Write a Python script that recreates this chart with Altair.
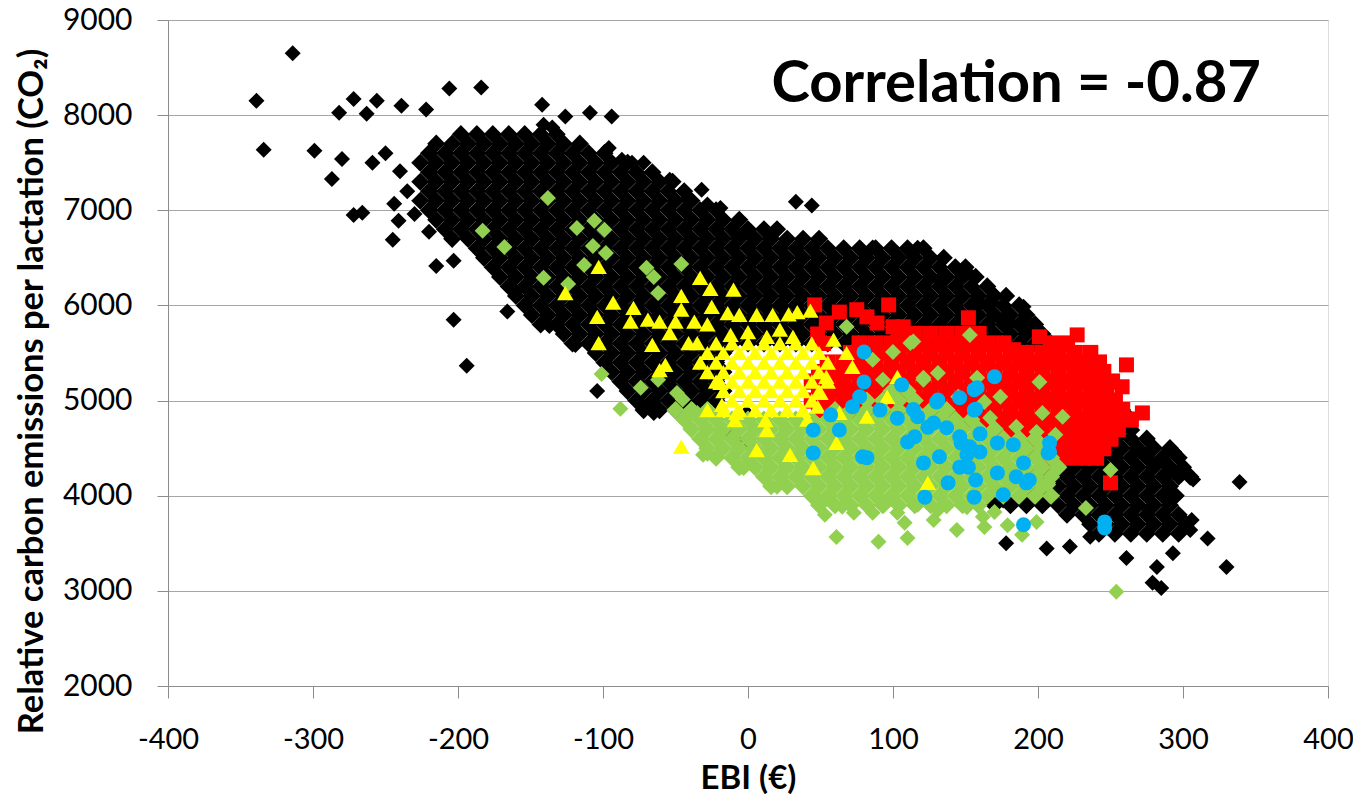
import altair as alt
import pandas as pd

# Scatter of EBI (euro) against relative CO2 emissions per lactation.
# Five groups of animals, each one a list of (EBI, CO2) points.
# Dense parts of the cloud are written row by row: (CO2 level, [EBI values]).

black_rows = [
    (7800, [-198, -187, -176, -165, -154, -143, -132]),
    (7700, [-215, -204, -193, -182, -171, -160, -149, -138, -127, -116]),
    (7600, [-220, -209, -198, -187, -176, -165, -154, -143, -132, -121, -110, -99]),
    (7500, [-226, -215, -204, -193, -182, -171, -160, -149, -138, -127, -116, -105, -94, -83]),
    (7400, [-220, -209, -198, -187, -176, -165, -154, -143, -132, -121, -110, -99, -88, -77, -66]),
    (7300, [-226, -215, -204, -193, -182, -171, -160, -149, -138, -127, -116, -105, -94, -83, -72, -61, -52]),
    (7200, [-220, -209, -198, -187, -176, -165, -154, -143, -132, -121, -110, -99, -88, -77, -66, -55, -44]),
    (7100, [-226, -215, -204, -193, -182, -171, -160, -149, -138, -127, -116, -105, -94, -83, -72, -61, -50, -39]),
    (7000, [-220, -209, -198, -187, -176, -165, -154, -143, -132, -121, -110, -99, -88, -77, -66, -55, -44, -33, -22]),
    (6900, [-215, -204, -193, -182, -171, -160, -149, -138, -127, -116, -105, -94, -83, -72, -61, -50, -39, -28, -17, -6]),
    (6800, [-209, -198, -187, -176, -165, -154, -143, -132, -121, -110, -99, -88, -77, -66, -55, -44, -33, -22, -11, 0, 11, 20]),
    (6700, [-204, -193, -182, -171, -160, -149, -138, -127, -116, -105, -94, -83, -72, -61, -50, -39, -28, -17, -6, 5, 16, 27, 38, 49]),
    (6600, [-187, -176, -165, -154, -143, -132, -121, -110, -99, -88, -77, -66, -55, -44, -33, -22, -11, 0, 11, 22, 33, 44, 55, 66, 77, 88, 99, 110, 121]),
    (6500, [-182, -171, -160, -149, -138, -127, -116, -105, -94, -83, -72, -61, -50, -39, -28, -17, -6, 5, 16, 27, 38, 49, 60, 71, 82, 93, 104, 115, 126, 135]),
    (6400, [-176, -165, -154, -143, -132, -121, -110, -99, -88, -77, -66, -55, -44, -33, -22, -11, 0, 11, 22, 33, 44, 55, 66, 77, 88, 99, 110, 121, 132, 143, 150]),
    (6300, [-171, -160, -149, -138, -127, -116, -105, -94, -83, -72, -61, -50, -39, -28, -17, -6, 5, 16, 27, 38, 49, 60, 71, 82, 93, 104, 115, 126, 137, 148, 157]),
    (6200, [-165, -154, -143, -132, -121, -110, -99, -88, -77, -66, -55, -44, -33, -22, -11, 0, 11, 22, 33, 44, 55, 66, 77, 88, 99, 110, 121, 132, 143, 154, 165]),
    (6100, [-160, -149, -138, -127, -116, -105, -94, -83, -72, -61, -50, -39, -28, -17, -6, 5, 16, 27, 38, 49, 60, 71, 82, 93, 104, 115, 126, 137, 148, 159, 170, 178]),
    (6000, [-154, -143, -132, -121, -110, -99, -88, -77, -66, -55, -44, -33, -22, -11, 0, 11, 22, 33, 44, 55, 66, 77, 88, 99, 110, 121, 132, 143, 154, 165, 176, 187]),
    (5900, [-149, -138, -127, -116, -105, -94, -83, -72, -61, -50, -39, -28, -17, -6, 5, 16, 27, 38, 49, 60, 71, 82, 93, 104, 115, 126, 137, 148, 159, 170, 181, 192]),
    (5800, [-143, -132, -121, -110, -99, -88, -77, -66, -55, -44, -33, -22, -11, 0, 11, 22, 33, 44, 55, 66, 77, 88, 99, 110, 121, 132, 143, 154, 165, 176, 187, 198]),
    (5700, [-127, -116, -105, -94, -83, -72, -61, -50, -39, -28, -17, -6, 5, 16, 27, 38, 49, 60, 71, 82, 93, 104, 115, 126, 137, 148, 159, 170, 181, 192, 203]),
    (5600, [-121, -110, -99, -88, -77, -66, -55, -44, -33, -22, -11, 0, 11, 22, 33, 44, 55, 66, 77, 88, 99, 110, 121, 132, 143, 154, 165, 176, 187, 198, 209]),
    (5500, [-105, -94, -83, -72, -61, -50, -39, -28, -17]),
    (5400, [-99, -88, -77, -66, -55, -44, -33, -22]),
    (5300, [-94, -83, -72, -61, -50, -39, -28, -17]),
    (5200, [-88, -77, -66, -55, -44, -33, -22]),
    (5100, [-83, -72, -61, -50, -39, -28, -17]),
    (5000, [-77, -66, -55, -44, -33, -22]),
    (4900, [-72, -61, -50, 247, 258]),
    (4800, [242, 253, 264]),
    (4700, [225, 236, 247, 258]),
    (4600, [220, 231, 242, 253, 264, 275]),
    (4500, [214, 225, 236, 247, 258, 269, 280, 291]),
    (4400, [209, 220, 231, 242, 253, 264, 275, 286, 297]),
    (4300, [203, 214, 225, 236, 247, 258, 269, 280, 291, 300]),
    (4200, [198, 209, 220, 231, 242, 253, 264, 275, 286, 297, 305]),
    (4100, [203, 214, 225, 236, 247, 258, 269, 280, 291]),
    (4000, [198, 209, 220, 231, 242, 253, 264, 275, 286, 295]),
    (3900, [170, 181, 192, 203, 214, 225, 236, 247, 258, 269, 280, 291]),
    (3800, [220, 231, 242, 253, 264, 275, 286, 297]),
    (3700, [236, 247, 258, 269, 280, 291, 302]),
    (3600, [242, 253, 264, 275, 286, 297]),
]

black_single = [
    (-314, 8650), (-339, 8150), (-334, 7635), (-299, 7625), (-282, 8025), (-272, 8170),
    (-263, 8015), (-256, 8150), (-239, 8100), (-222, 8060), (-206, 8280), (-184, 8290),
    (-142, 8110), (-126, 7985), (-109, 8025), (-94, 7985), (-135, 7870), (-141, 7900),
    (-280, 7540), (-287, 7330), (-272, 6950), (-266, 6975), (-245, 6690), (-241, 6890),
    (-244, 7070), (-220, 6775), (-215, 6415), (-203, 6470), (-203, 5850), (-160, 6150),
    (-166, 5935), (-137, 5785), (-119, 5585), (-194, 5365), (-104, 5100), (-72, 4925),
    (-65, 4870), (-259, 7500), (-250, 7600), (-240, 7410), (-235, 7200), (-230, 6960),
    (-96, 7655), (-87, 7530), (-80, 7500), (-72, 7500), (-76, 7375), (-54, 7320),
    (-42, 7120), (-32, 7215), (-28, 7060), (-19, 7025), (33, 7090), (44, 7050),
    (-3, 6740), (86, 6610), (110, 6585), (117, 6605), (151, 6355), (132, 6270),
    (151, 6340), (160, 6025), (168, 6025), (190, 5985), (175, 5850), (181, 5815),
    (192, 5830), (194, 5745), (207, 5535), (222, 5430), (230, 5345), (241, 5375),
    (265, 4690), (275, 4590), (270, 4480), (294, 4460), (282, 4345), (293, 4250),
    (307, 4170), (339, 4145), (290, 4040), (277, 3850), (298, 3775), (306, 3745),
    (305, 3640), (317, 3550), (293, 3395), (261, 3345), (330, 3250), (282, 3250),
    (279, 3085), (285, 3030), (222, 3465), (206, 3445), (178, 3500), (236, 3570),
    (-8, 4580), (2, 4530), (-1, 4870), (-12, 4650), (165, 4000), (176, 3950),
]

red_rows = [
    (5700, [104, 115, 126, 137, 148, 159]),
    (5600, [77, 88, 99, 110, 121, 132, 143, 154, 165, 176, 209, 220]),
    (5500, [71, 82, 93, 104, 115, 126, 137, 148, 159, 170, 181, 192, 203, 214, 225, 236]),
    (5400, [55, 66, 77, 88, 99, 110, 121, 132, 143, 154, 165, 176, 187, 198, 209, 220, 231, 242]),
    (5300, [49, 60, 71, 82, 93, 104, 115, 126, 137, 148, 159, 170, 181, 192, 203, 214, 225, 236, 245]),
    (5200, [44, 55, 66, 77, 88, 99, 110, 121, 132, 143, 154, 165, 176, 187, 198, 209, 220, 231, 242, 251]),
    (5100, [49, 60, 71, 82, 93, 104, 115, 126, 137, 148, 159, 170, 181, 192, 203, 214, 225, 236, 247]),
    (5000, [44, 55, 66, 77, 88, 99, 110, 121, 132, 143, 154, 165, 176, 187, 198, 209, 220, 231, 242, 253]),
    (4900, [49, 60, 71, 82, 93, 104, 115, 126, 137, 148, 159, 170, 181, 192, 203, 214, 225, 236, 247, 258]),
    (4800, [154, 165, 176, 187, 198, 209, 220, 231, 242, 253, 264]),
    (4700, [159, 170, 181, 192, 203, 214, 225, 236, 247, 255]),
    (4600, [176, 187, 198, 209, 220, 231, 242, 250]),
    (4500, [192, 203, 214, 225, 236, 245]),
    (4400, [209, 220, 231, 240]),
]

red_single = [
    (46, 6005), (63, 5930), (75, 5955), (97, 6005), (54, 5815), (82, 5880), (89, 5815),
    (100, 5775), (152, 5870), (107, 5775), (201, 5670), (227, 5690), (212, 5535),
    (183, 5535), (261, 5375), (243, 5145), (258, 5145), (272, 4870), (250, 4965),
    (255, 4830), (235, 4410), (250, 4135), (48, 5700), (52, 5600),
]

green_rows = [
    (5100, [99, 110]),
    (5000, [82, 93, 104, 115]),
    (4900, [-50, -39, -28, 60, 71, 82, 93, 104, 115, 126, 137]),
    (4800, [-44, -33, -22, -11, 0, 11, 22, 33, 44, 55, 66, 77, 88, 99, 110, 121, 132, 143, 154]),
    (4700, [-39, -28, -17, -6, 5, 16, 27, 38, 49, 60, 71, 82, 93, 104, 115, 126, 137, 148, 159, 170]),
    (4600, [-33, -22, -11, 0, 11, 22, 33, 44, 55, 66, 77, 88, 99, 110, 121, 132, 143, 154, 165, 176, 187, 198]),
    (4500, [-28, -17, -6, 5, 16, 27, 38, 49, 60, 71, 82, 93, 104, 115, 126, 137, 148, 159, 170, 181, 192, 203]),
    (4400, [-22, -11, 0, 11, 22, 33, 44, 55, 66, 77, 88, 99, 110, 121, 132, 143, 154, 165, 176, 187, 198, 209]),
    (4300, [-6, 5, 16, 27, 38, 49, 60, 71, 82, 93, 104, 115, 126, 137, 148, 159, 170, 181, 192, 203, 214]),
    (4200, [11, 22, 33, 44, 55, 66, 77, 88, 99, 110, 121, 132, 143, 154, 165, 176, 187, 198, 209]),
    (4100, [16, 27, 38, 49, 60, 71, 82, 93, 104, 115, 126, 137, 148, 159, 170, 181, 192, 203]),
    (4000, [44, 55, 66, 77, 88, 99, 110, 121, 132, 143, 154, 165, 176, 187, 198, 209]),
    (3900, [49, 60, 71, 82, 93, 104, 115, 126, 137, 148, 159]),
]

green_single = [
    (-138, 7130), (-183, 6785), (-168, 6615), (-118, 6815), (-106, 6890), (-99, 6795),
    (-107, 6625), (-98, 6550), (-113, 6425), (-141, 6290), (-124, 6225), (-70, 6395),
    (-65, 6300), (-62, 6130), (-46, 6435),
    (-101, 5280), (-74, 5135), (-88, 4915), (-62, 5220), (-49, 5080), (-35, 4870),
    (-45, 5010), (-28, 4440), (-19, 4660), (-31, 4430), (-3, 4290), (20, 4095),
    (68, 5775), (100, 5510), (112, 5605), (153, 5690), (114, 5620), (93, 5220),
    (121, 5220), (131, 5290), (86, 5430), (121, 5240), (158, 5240), (201, 5195),
    (217, 4830), (203, 4870), (167, 4820), (185, 4725), (199, 4670), (212, 4640),
    (174, 5040), (163, 4985), (145, 5040), (250, 4270), (207, 4135), (233, 3870),
    (207, 4115), (254, 2990),
    (61, 3565), (90, 3515), (110, 3555), (144, 3640), (163, 3670), (199, 3725),
    (189, 3590), (179, 3690), (108, 3715), (53, 3800), (73, 3820), (86, 3820),
    (103, 3820), (65, 3885), (94, 3905), (117, 3905), (131, 3850), (52, 3935),
    (151, 3880), (162, 3780), (128, 3745), (170, 3830),
]

yellow_rows = [
    (5600, [-22, -11, 0, 11, 22, 33, 44]),
    (5500, [-28, -17, -6, 5, 16, 27, 38, 49]),
    (5400, [-33, -22, -11, 0, 11, 22, 33, 44, 55]),
    (5300, [-28, -17, -6, 5, 16, 27, 38, 49]),
    (5200, [-22, -11, 0, 11, 22, 33, 44, 55]),
    (5100, [-17, -6, 5, 16, 27, 38, 49]),
    (5000, [-11, 0, 11, 22, 33, 44]),
    (4900, [-17, -6, 5, 16, 27, 38]),
]

yellow_single = [
    (-103, 6405), (-126, 6130), (-33, 6290), (-26, 6175), (-10, 6165), (-46, 6100),
    (-93, 6030), (-79, 5975), (-104, 5880), (-81, 5830), (-69, 5850), (-61, 5830),
    (-46, 5955), (-25, 5985), (-14, 5920), (-6, 5900), (6, 5900), (17, 5900),
    (28, 5905), (34, 5930), (43, 5945), (-50, 5830), (-37, 5830), (-28, 5800),
    (-54, 5710), (-41, 5605), (-103, 5605), (-66, 5585), (-35, 5605), (-57, 5375),
    (-61, 5320), (13, 5670), (22, 5745), (31, 5670), (0, 5720), (-12, 5690),
    (-19, 5185), (-18, 4955), (-28, 4900), (-8, 4870), (-9, 4795), (12, 4795),
    (13, 4690), (6, 4480), (29, 4430), (45, 4290), (41, 4800), (61, 4555),
    (63, 4870), (82, 4830), (96, 5040), (124, 4135), (50, 5080), (54, 5250),
    (59, 5640), (68, 5500), (72, 5355), (103, 5250), (-46, 4515), (48, 4935),
]

blue_points = [
    (80, 5510), (80, 5195), (106, 5165), (72, 4935), (77, 5040), (91, 4900), (57, 4850),
    (45, 4690), (63, 4690), (45, 4450), (79, 4410), (82, 4400), (103, 4815), (117, 4830),
    (130, 4985), (146, 5030), (156, 5115), (124, 4720), (137, 4715), (110, 4565),
    (115, 4620), (146, 4620), (121, 4345), (132, 4410), (146, 4300), (138, 4135),
    (122, 3985), (156, 3985), (156, 4900), (153, 4515), (170, 5250), (158, 5135),
    (131, 5005), (157, 4910), (128, 4765), (160, 4650), (147, 4555), (172, 4555),
    (183, 4535), (208, 4555), (207, 4450), (151, 4430), (160, 4460), (152, 4300),
    (172, 4240), (185, 4200), (190, 4345), (192, 4135), (194, 4165), (176, 4010),
    (157, 4165), (190, 3695), (246, 3725), (246, 3660), (208, 4460), (114, 4905),
]

note_text = ["Correlation = -0.87"]
note_ebi = [185]
note_co2 = [8141]

x_ticks = [-400, -300, -200, -100, 0, 100, 200, 300, 400]
y_ticks = [2000, 3000, 4000, 5000, 6000, 7000, 8000, 9000]


def to_frame(pts):
    return pd.DataFrame(pts, columns=["ebi", "co2"])


def flatten(rows):
    return [(x, y) for y, xs in rows for x in xs]


black_core = to_frame(flatten(black_rows))
black_out = to_frame(black_single)
red_core = to_frame(flatten(red_rows))
red_out = to_frame(red_single)
green_core = to_frame(flatten(green_rows))
green_out = to_frame(green_single)
yellow_df = to_frame(flatten(yellow_rows) + yellow_single)
blue_df = to_frame(blue_points)
note_df = pd.DataFrame({"ebi": note_ebi, "co2": note_co2, "label": note_text})

GRAY = "#8c8c8c"

x_enc = alt.X(
    "ebi:Q",
    scale=alt.Scale(domain=[-400, 400], nice=False, zero=False),
    axis=alt.Axis(
        values=x_ticks,
        grid=False,
        domainColor=GRAY,
        tickColor=GRAY,
        tickSize=12,
        labelExpr="toString(datum.value)",
        labelFlush=False,
        labelFont="Lato",
        labelFontSize=29,
        labelColor="black",
        labelBaseline="alphabetic",
        labelPadding=50,
        title="EBI (€)",
        titleFont="Lato",
        titleFontSize=33,
        titleFontWeight="bold",
        titleColor="black",
        titleBaseline="alphabetic",
        titleX=580,
        titleY=102,
    ),
)
y_enc = alt.Y(
    "co2:Q",
    scale=alt.Scale(domain=[2000, 9000], nice=False, zero=False),
    axis=alt.Axis(
        values=y_ticks,
        grid=True,
        gridColor="#a6a6a6",
        domainColor=GRAY,
        tickColor=GRAY,
        tickSize=11,
        labelExpr="toString(datum.value)",
        labelFlush=False,
        labelFont="Lato",
        labelFontSize=30,
        labelColor="black",
        labelPadding=25,
        title="Relative carbon emissions per lactation (CO₂)",
        titleFont="Lato",
        titleFontSize=34.5,
        titleFontWeight="bold",
        titleColor="black",
        titleAngle=270,
        titleAlign="center",
        titleBaseline="alphabetic",
        titleX=-126,
        titleY=371,
    ),
)


def scatter(df, shape, color, size):
    return (
        alt.Chart(df)
        .mark_point(shape=shape, filled=True, color=color, size=size, opacity=1)
        .encode(x=x_enc, y=y_enc)
    )


# packed rows overlap a little more so the cloud reads as solid, like the original
layers = [
    scatter(black_core, "diamond", "#000000", 330),
    scatter(black_out, "diamond", "#000000", 256),
    scatter(red_core, "square", "#FF0000", 262),
    scatter(red_out, "square", "#FF0000", 225),
    scatter(green_core, "diamond", "#92D050", 330),
    scatter(green_out, "diamond", "#92D050", 256),
    scatter(yellow_df, "triangle-up", "#FFFF00", 270),
    scatter(blue_df, "circle", "#00B0F0", 225),
]

note = (
    alt.Chart(note_df)
    .mark_text(font="Lato", fontSize=58, fontWeight="bold", align="center",
               baseline="alphabetic", color="black")
    .encode(x="ebi:Q", y="co2:Q", text="label:N")
)

chart = (
    alt.layer(*layers, note)
    .properties(
        width=1160,
        height=666,
        autosize="none",
        padding={"left": 160, "top": 12, "right": 25, "bottom": 108},
    )
    .configure_view(stroke=None)
    .configure(background="white")
)

chart.save("out.html", embed_options={"renderer": "svg", "actions": False})
